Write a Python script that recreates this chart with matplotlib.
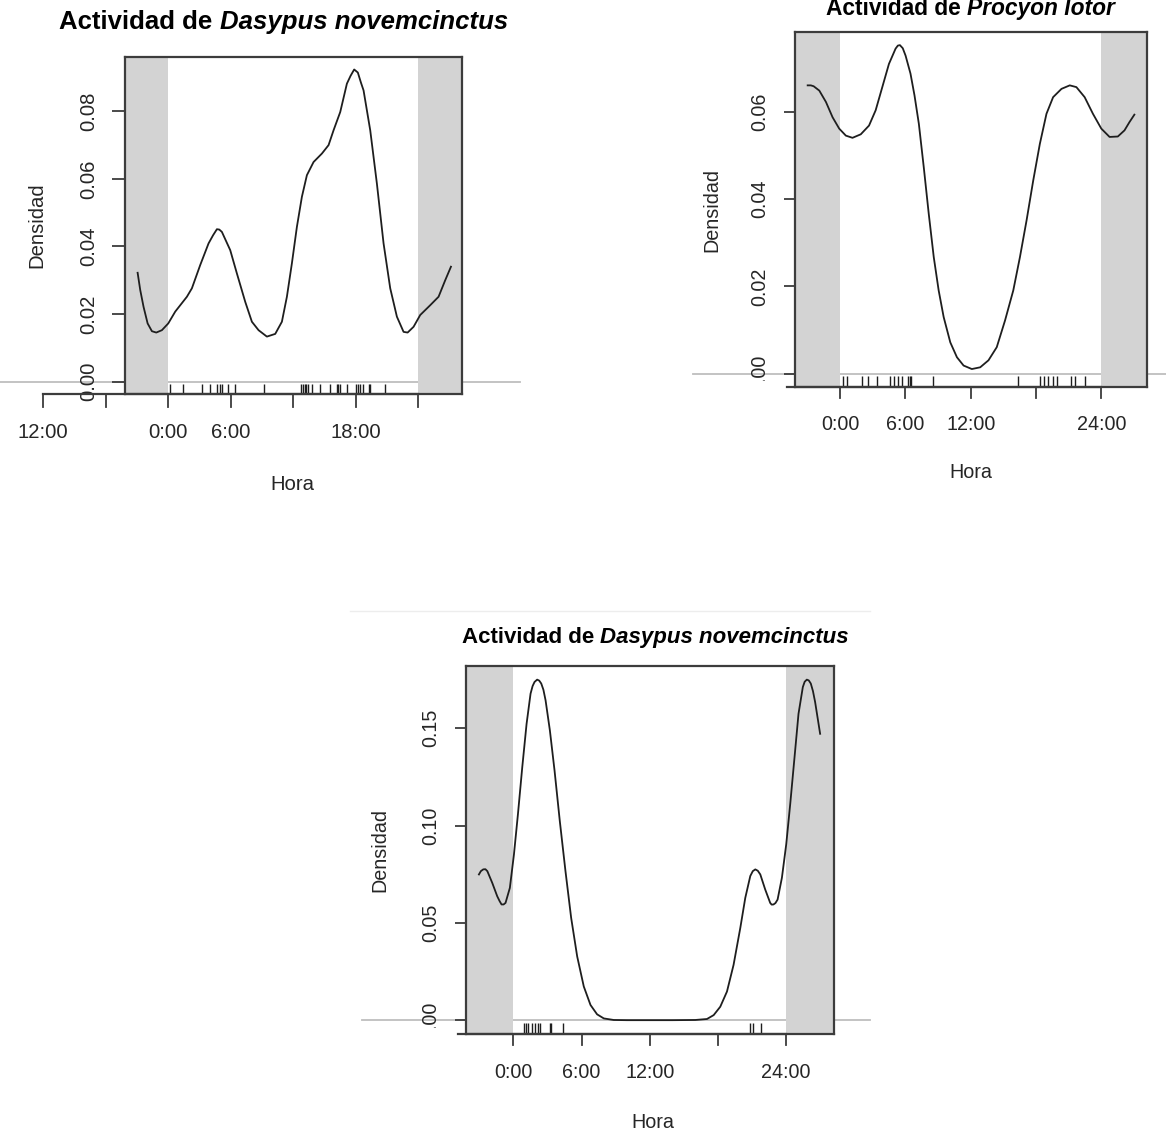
import numpy as np
import matplotlib
matplotlib.use("Agg")
import matplotlib.pyplot as plt
from matplotlib.transforms import blended_transform_factory, offset_copy
from matplotlib.patches import Rectangle
from matplotlib.lines import Line2D

plt.rcParams['font.family'] = ['Liberation Sans', 'DejaVu Sans']

# ---------------- data ----------------
# Panel 1: Dasypus novemcinctus (top-left)
p1_hours = [-2.94, -2.69, -2.37, -1.98, -1.57, -1.15, -0.61, 0.0, 0.67, 1.79, 2.27, 3.07,
            3.87, 4.3, 4.67, 4.9, 5.15, 5.95, 6.59, 7.39, 8.03, 8.67, 9.47, 10.27, 10.91, 11.39,
            11.87, 12.35, 12.83, 13.31, 13.95, 14.75, 15.39, 15.87, 16.51, 17.15, 17.5,
            17.85, 18.2, 18.5, 18.75, 19.39, 20.03, 20.67, 21.31, 21.95, 22.59, 22.98,
            23.55, 24.19, 25.15, 25.95, 26.59, 27.14]
p1_density = [0.0322, 0.0271, 0.0221, 0.0172, 0.0149, 0.0145, 0.0152, 0.0172, 0.0207, 0.0251,
              0.0276, 0.0345, 0.0409, 0.0433, 0.0451, 0.0450, 0.0443, 0.0389, 0.0320, 0.0236, 0.0177,
              0.0152, 0.0133, 0.0141, 0.0177, 0.0251, 0.0350, 0.0458, 0.0547, 0.0611, 0.0650,
              0.0675, 0.0700, 0.0744, 0.0798, 0.0882, 0.0905, 0.0924, 0.0915, 0.0885, 0.0862,
              0.0744, 0.0586, 0.0409, 0.0276, 0.0192, 0.0147, 0.0145, 0.0162, 0.0197, 0.0226,
              0.0251, 0.0300, 0.0340]
p1_rug = [0.13, 1.41, 3.2, 4.03, 4.64, 4.93, 5.15, 5.7, 6.43, 9.15, 12.77, 12.93, 13.09,
          13.25, 13.44, 13.76, 14.59, 15.49, 16.19, 16.32, 16.45, 17.12, 17.98, 18.18,
          18.43, 18.66, 19.26, 19.36, 20.77]

# Panel 2: Procyon lotor (top-right)
p2_hours = [-2.99, -2.7, -2.44, -1.92, -1.31, -0.70, -0.09, 0.52, 1.13, 1.89, 2.65, 3.26, 3.87,
            4.48, 5.09, 5.3, 5.49, 5.75, 6.01, 6.46, 6.83, 7.23, 7.68, 8.14, 8.60, 9.05, 9.51, 10.12,
            10.73, 11.34, 12.10, 12.87, 13.63, 14.39, 15.15, 15.91, 16.52, 17.13, 17.74,
            18.35, 18.96, 19.57, 20.34, 21.10, 21.71, 22.47, 23.23, 24.0, 24.76, 25.52,
            26.13, 26.59, 27.04]
p2_density = [0.0660, 0.0660, 0.0658, 0.0648, 0.0622, 0.0587, 0.0561, 0.0545, 0.0540, 0.0548, 0.0568,
              0.0603, 0.0656, 0.0709, 0.0744, 0.0751, 0.0752, 0.0745, 0.0728, 0.0687, 0.0637, 0.0572,
              0.0473, 0.0366, 0.0267, 0.0191, 0.0130, 0.0072, 0.0038, 0.0019, 0.0011, 0.0015, 0.0031,
              0.0061, 0.0122, 0.0191, 0.0267, 0.0351, 0.0442, 0.0526, 0.0595, 0.0633, 0.0652,
              0.0660, 0.0656, 0.0633, 0.0595, 0.0561, 0.0542, 0.0543, 0.0557, 0.0576, 0.0593]
p2_rug = [0.22, 0.67, 2.05, 2.56, 3.42, 4.58, 4.94, 5.31, 5.71, 6.22, 6.40, 6.52, 8.54,
          16.32, 18.36, 18.72, 19.12, 19.52, 19.94, 21.25, 21.56, 22.47]

# Panel 3: Dasypus novemcinctus (bottom)
p3_hours = [-3.02, -2.85, -2.64, -2.45, -2.28, -1.85, -1.41, -1.2, -1.03, -0.85, -0.68, -0.30,
            0.06, 0.41, 0.79, 1.17, 1.52, 1.70, 1.87, 2.10, 2.28, 2.46, 2.65, 2.84, 3.22, 3.63,
            4.09, 4.59, 5.09, 5.62, 6.20, 6.79, 7.37, 7.96, 8.83, 10.0, 12.0, 14.0, 16.0,
            17.03, 17.62, 18.20, 18.79, 19.37, 19.96, 20.40, 20.84, 21.06, 21.28, 21.5, 21.72,
            22.15, 22.59, 22.72, 22.88, 23.05, 23.24, 23.62, 24.0, 24.35, 24.73, 25.08, 25.46,
            25.62, 25.81, 25.98, 26.16, 26.35, 26.54, 26.98]
p3_density = [0.0749, 0.0766, 0.0775, 0.0776, 0.0766, 0.0706, 0.0637, 0.0612, 0.0595, 0.0595,
              0.0603, 0.0680, 0.0852, 0.1058, 0.1299, 0.1522, 0.1677, 0.1716, 0.1737, 0.1749,
              0.1744, 0.1729, 0.1697, 0.1643, 0.1488, 0.1282, 0.1024, 0.0766, 0.0526, 0.0328,
              0.0174, 0.0079, 0.0031, 0.0010, 0.0002, 0.0001, 0.0001, 0.0001, 0.0002, 0.0007,
              0.0027, 0.0070, 0.0148, 0.0285, 0.0474, 0.0629, 0.0741, 0.0766, 0.0775, 0.0768,
              0.0749, 0.0672, 0.0603, 0.0594, 0.0595, 0.0602, 0.0620, 0.0732, 0.0904, 0.1110,
              0.1351, 0.1574, 0.1711, 0.1738, 0.1749, 0.1745, 0.1729, 0.1690, 0.1634, 0.1471]
p3_rug = [0.93, 1.14, 1.31, 1.67, 1.87, 2.19, 2.34, 3.22, 3.33, 4.39, 20.83, 21.12, 21.8]

p1_xticks = [-12, -6, 0, 6, 12, 18, 24]
p1_xlabels = ['12:00', '', '0:00', '6:00', '', '18:00', '']
p23_xticks = [0, 6, 12, 18, 24]
p23_xlabels = ['0:00', '6:00', '12:00', '', '24:00']
p1_yticks = [0.0, 0.02, 0.04, 0.06, 0.08]
p1_ylabels = ['0.00', '0.02', '0.04', '0.06', '0.08']
p2_yticks = [0.0, 0.02, 0.04, 0.06]
p2_ylabels = ['0.00', '0.02', '0.04', '0.06']
p3_yticks = [0.0, 0.05, 0.10, 0.15]
p3_ylabels = ['0.00', '0.05', '0.10', '0.15']

X_RANGE = (-3, 27)
DARK_END = 0
DARK_START = 24

# ---------------- drawing ----------------
W, H = 1166, 1137
fig = plt.figure(figsize=(W / 100, H / 100), dpi=100, facecolor='white')
renderer = fig.canvas.get_renderer()

BAND = '#D3D3D3'
ZERO = '#BEBEBE'
INK = '#1e1e1e'
BOX = '#3c3c3c'
TXT = '#262626'


def fx(x):
    return x / W


def fy(y):
    return 1 - y / H


def two_part_title(cx, base, parts, size):
    kw = dict(size=size, fontweight='bold', color='black', va='baseline', ha='left')
    t1 = fig.text(0, 0, parts[0], **kw)
    t2 = fig.text(0, 0, parts[1], fontstyle='italic', **kw)
    ta = fig.text(0, 0, 'a a', **kw)
    tb = fig.text(0, 0, 'aa', **kw)
    w1 = t1.get_window_extent(renderer).width
    w2 = t2.get_window_extent(renderer).width
    ws = ta.get_window_extent(renderer).width - tb.get_window_extent(renderer).width
    ta.remove()
    tb.remove()
    x0 = cx - (w1 + ws + w2) / 2
    t1.set_position((fx(x0), fy(base)))
    t2.set_position((fx(x0 + w1 + ws), fy(base)))


def draw_panel(box, hours, dens, rug, xticks, xlabels, yticks, ylabels, title_parts,
               title_cx, title_base, title_size, txt_size, ylab_xy, ytl_x, xtl_y, xlab_xy,
               zero_span, tick_px, axis_start=None, clip00=False):
    l, t, r, b = box
    ax = fig.add_axes([fx(l), fy(b), (r - l) / W, (b - t) / H])
    lo, hi = X_RANGE
    span = hi - lo
    ax.set_xlim(lo - 0.04 * span, hi + 0.04 * span)
    top = max(dens)
    ax.set_ylim(-0.04 * top, 1.04 * top)
    xmin, xmax = ax.get_xlim()
    ax.axvspan(xmin, DARK_END, color=BAND, lw=0, zorder=1)
    ax.axvspan(DARK_START, xmax, color=BAND, lw=0, zorder=1)
    ax.axhline(0, xmin=(zero_span[0] - l) / (r - l), xmax=(zero_span[1] - l) / (r - l),
               color=ZERO, lw=1.3, clip_on=False, zorder=0.5)
    ax.plot(hours, dens, color=INK, lw=1.3, zorder=3, solid_joinstyle='round')
    trans_xa = blended_transform_factory(ax.transData, ax.transAxes)
    trans_ay = blended_transform_factory(ax.transAxes, ax.transData)
    ax.vlines(rug, 0, 0.03, transform=trans_xa, color=INK, lw=1.0, zorder=3)
    for s in ax.spines.values():
        s.set_color(BOX)
        s.set_linewidth(1.6)
        s.set_zorder(4)
    ax.set_xticks([])
    ax.set_yticks(yticks)
    ax.set_yticklabels([])
    ax.tick_params(axis='y', direction='out', length=tick_px * 0.72, width=1.3, color=BOX)

    # x axis (R style)
    if axis_start is None:
        x_start = xmin - 8.0 / (r - l) * (xmax - xmin)
    else:
        x_start = axis_start
    ax.add_line(Line2D([x_start, max(xticks)], [0, 0], transform=trans_xa, color=BOX,
                       lw=1.6, clip_on=False, zorder=4))
    for xt, lab in zip(xticks, xlabels):
        ax.add_line(Line2D([xt, xt], [0, -tick_px / (b - t)], transform=trans_xa, color=BOX,
                           lw=1.3, clip_on=False, zorder=4))
        if lab:
            ax.text(xt, 0, lab, transform=offset_copy(trans_xa, fig=fig, x=0, y=-(xtl_y - b), units='dots'),
                    ha='center', va='center', size=txt_size, color=TXT)
    for yt, lab in zip(yticks, ylabels):
        tx = ax.text(0, yt, lab, transform=offset_copy(trans_ay, fig=fig, x=-(l - ytl_x), y=0, units='dots'),
                     rotation=90, ha='center', va='center', size=txt_size, color=TXT)
        if clip00 and yt == 0:
            clip_tr = offset_copy(blended_transform_factory(fig.transFigure, ax.transData),
                                  fig=fig, x=0, y=-7.5, units='dots')
            rect = Rectangle((0, 0), 1, 10, transform=clip_tr)
            tx.set_clip_path(rect)
            tx.set_clip_on(True)

    fig.text(fx(ylab_xy[0]), fy(ylab_xy[1]), 'Densidad', rotation=90, ha='center', va='center',
             size=txt_size, color=TXT)
    fig.text(fx(xlab_xy[0]), fy(xlab_xy[1]), 'Hora', ha='center', va='center',
             size=txt_size, color=TXT)
    two_part_title(title_cx, title_base, title_parts, title_size)
    return ax


draw_panel((124.5, 57, 462, 394), p1_hours, p1_density, p1_rug, p1_xticks, p1_xlabels,
           p1_yticks, p1_ylabels, ('Actividad de', 'Dasypus novemcinctus'),
           283.5, 29, 18.5, 14.6, (37, 225), 88.5, 433, (292, 484), (0, 520), 13,
           axis_start=-12, clip00=False)

draw_panel((794.5, 32, 1147, 387), p2_hours, p2_density, p2_rug, p23_xticks, p23_xlabels,
           p2_yticks, p2_ylabels, ('Actividad de', 'Procyon lotor'),
           970, 15, 16.4, 14.2, (712, 210), 760, 424, (971, 472.5), (693, 1166), 11,
           axis_start=None, clip00=True)

draw_panel((465.5, 666, 834, 1034), p3_hours, p3_density, p3_rug, p23_xticks, p23_xlabels,
           p3_yticks, p3_ylabels, ('Actividad de', 'Dasypus novemcinctus'),
           655, 643, 16.0, 14.2, (380, 850), 430.5, 1072.5, (653, 1123), (362, 870), 11,
           axis_start=None, clip00=True)

fig.add_artist(Line2D([fx(350), fx(870)], [fy(611), fy(611)], transform=fig.transFigure,
                      color='#ededed', lw=1.0))

fig.savefig('out.png', dpi=100, facecolor='white')
